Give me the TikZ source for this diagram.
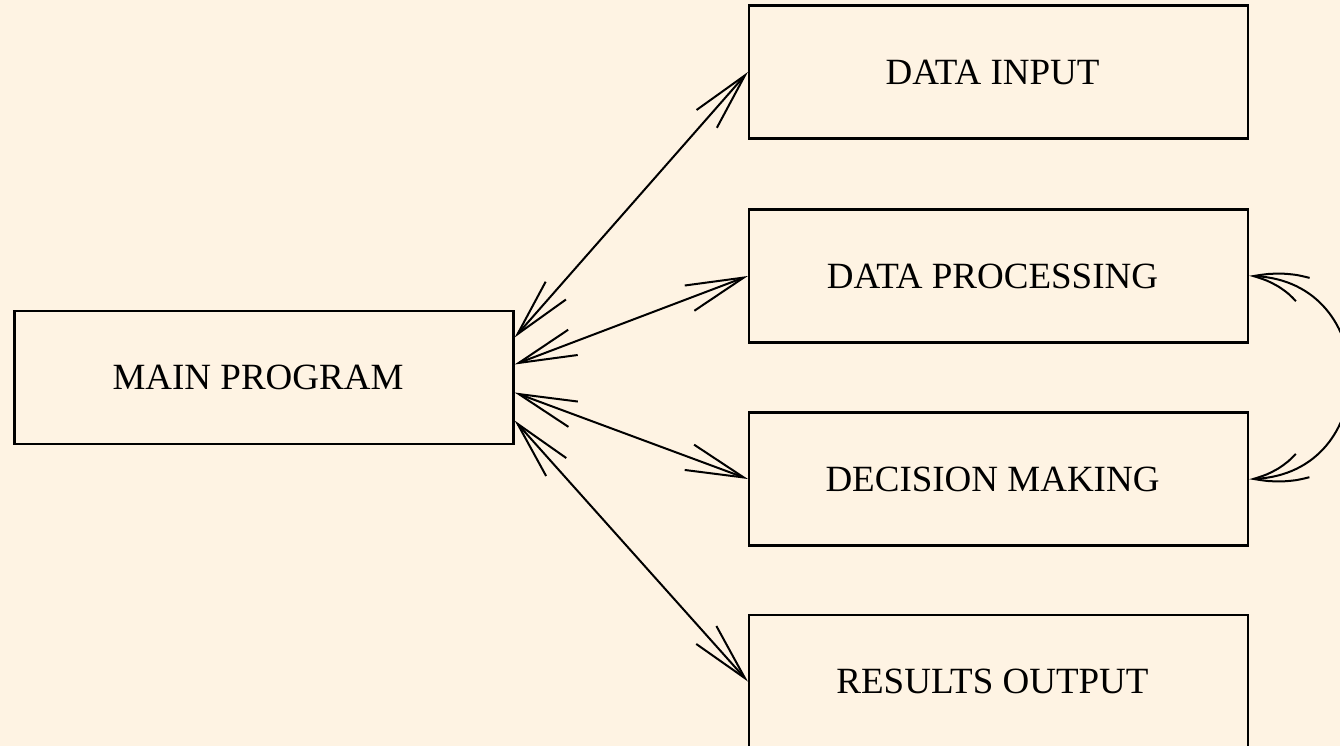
\documentclass[tikz,border=0pt]{standalone}
\usepackage{fontspec}
\setmainfont{Liberation Serif}
\usetikzlibrary{arrows.meta,bending}
\definecolor{bgcol}{RGB}{254,243,227}
\tikzset{
  box/.style={draw=black, line width=2.2pt, minimum width=499pt, minimum height=133pt,
    inner sep=0pt, font=\fontsize{37}{44}\selectfont, text=black,
    execute at end node={\kern12pt}},
  link/.style={line width=2pt, {Straight Barb[length=58pt,width=27pt,line width=2pt]}-{Straight Barb[length=58pt,width=27pt,line width=2pt]}},
  loop/.style={line width=2pt, {Straight Barb[bend,length=58pt,width=27pt,line width=2pt]}-{Straight Barb[bend,length=58pt,width=27pt,line width=2pt]}}
}
\begin{document}
\begin{tikzpicture}[x=1pt,y=-1pt]
\fill[bgcol] (0,0) rectangle (1340,746);
\useasboundingbox (0,0) rectangle (1340,746);
\clip (0,0) rectangle (1340,746);
\node[box] (main) at (264,377.5) {MAIN PROGRAM};
\node[box] (di) at (998.5,72) {DATA INPUT};
\node[box] (dp) at (998.5,276) {DATA PROCESSING};
\node[box] (dm) at (998.5,479) {DECISION MAKING};
\node[box] (ro) at (998.5,681.5) {RESULTS OUTPUT};
\draw[link] ([yshift=40pt]main.east) -- (di.west);
\draw[link] ([yshift=13pt]main.east) -- (dp.west);
\draw[link] ([yshift=-15pt]main.east) -- (dm.west);
\draw[link] ([yshift=-43pt]main.east) -- (ro.west);
\draw[loop] (dp.east) to[out=0,in=0,looseness=1.7] (dm.east);
\end{tikzpicture}
\end{document}
